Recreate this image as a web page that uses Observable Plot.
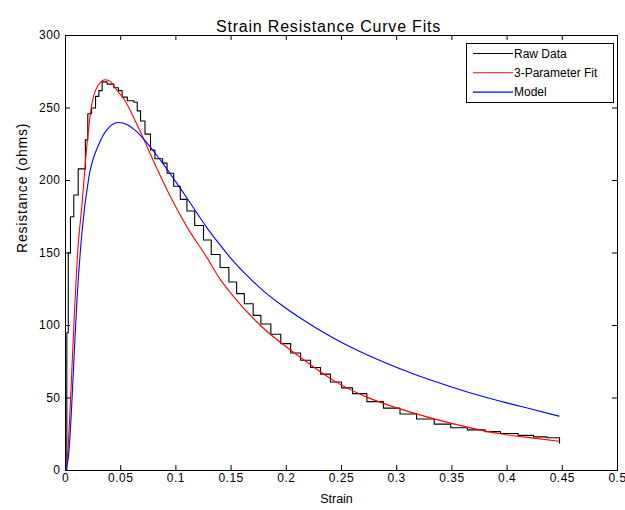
<!DOCTYPE html>
<html>
<head>
<meta charset="utf-8">
<script src="https://cdn.jsdelivr.net/npm/d3@7"></script>
<script src="https://cdn.jsdelivr.net/npm/@observablehq/plot@0.6"></script>
<style>
  html, body { margin: 0; padding: 0; background: #fff; }
  #wrap { position: relative; width: 625px; height: 510px; }
  #wrap svg text { font-family: "Liberation Sans", Arial, sans-serif; }
  .ttl { letter-spacing: 0.8px; }
  .ylab { letter-spacing: 0.8px; }
  .tk text { letter-spacing: 0.5px; }
  #legend { position: absolute; left: 466px; top: 43px; }
</style>
</head>
<body>
<div id="wrap"></div>
<script>
const title = "Strain Resistance Curve Fits";
const xLabel = "Strain";
const yLabel = "Resistance (ohms)";
const seriesNames = ["Raw Data", "3-Parameter Fit", "Model"];
const seriesColors = ["#000000", "#ff0000", "#0000ff"];

const xTicks = [0, 0.05, 0.1, 0.15, 0.2, 0.25, 0.3, 0.35, 0.4, 0.45, 0.5];
const xTickLabels = ["0", "0.05", "0.1", "0.15", "0.2", "0.25", "0.3", "0.35", "0.4", "0.45", "0.5"];
const yTicks = [0, 50, 100, 150, 200, 250, 300];
const yTickLabels = ["0", "50", "100", "150", "200", "250", "300"];

// Raw data (step curve)
const rawStrain = [0, 0.0012, 0.0025, 0.0045, 0.0075, 0.0115, 0.018, 0.0202, 0.0236, 0.0272, 0.0302, 0.0332,
  0.0377, 0.0438, 0.048, 0.0513, 0.056, 0.062, 0.065, 0.068, 0.072, 0.077, 0.081, 0.088, 0.092, 0.098,
  0.104, 0.11, 0.117, 0.125, 0.132, 0.14, 0.148, 0.155, 0.162, 0.17, 0.177, 0.186, 0.195, 0.204, 0.213,
  0.222, 0.231, 0.24, 0.25, 0.26, 0.273, 0.288, 0.303, 0.318, 0.334, 0.349, 0.364, 0.38, 0.394, 0.41,
  0.424, 0.436, 0.4475];
const rawResistance = [0, 95, 150, 175, 190, 208, 228, 246, 250, 258, 262, 268,
  266.5, 264, 262, 257.5, 255, 254, 248, 241, 232, 221, 215, 212, 205, 196,
  187, 179, 169, 159, 149, 140, 130, 122, 115, 107, 101, 94, 87.5, 81, 76,
  71, 66.5, 61, 57, 53, 47.5, 43, 39, 35.5, 32, 29.5, 28, 26.8, 25.5, 24.2,
  23.2, 22.6, 19];

// 3-parameter fit
const fitStrain = [0, 0.002, 0.0045, 0.0075, 0.011, 0.015, 0.0196, 0.0242, 0.03, 0.036, 0.041, 0.0468,
  0.054, 0.062, 0.07, 0.08, 0.095, 0.11, 0.128, 0.14, 0.15, 0.1766, 0.2129, 0.243, 0.273, 0.303, 0.334,
  0.364, 0.394, 0.424, 0.447];
const fitResistance = [0, 12, 48, 99, 150, 184, 226, 254, 266, 269.5, 268, 262,
  255, 243, 230, 213, 189, 168, 147, 132, 122, 100, 78, 62, 50.6, 42.5, 35.6,
  29.9, 25.3, 22.3, 20.2];

// Model
const modelStrain = [0, 0.003, 0.0066, 0.0085, 0.0106, 0.015, 0.0211, 0.0302, 0.0392, 0.048, 0.056, 0.064,
  0.072, 0.08, 0.088, 0.095, 0.105, 0.113, 0.12, 0.128, 0.138, 0.149, 0.165, 0.18, 0.195, 0.213, 0.243,
  0.273, 0.303, 0.334, 0.364, 0.394, 0.42, 0.447];
const modelResistance = [0, 12, 60, 90, 120, 165, 202, 225, 236.5, 240, 238.5, 234,
  227.5, 220, 212, 204.5, 193.5, 184.5, 176.5, 167.5, 157.5, 147, 134, 123.4, 114.5, 105, 91.2,
  79.8, 70.2, 61.5, 54.2, 47.8, 42.7, 37.5];

const raw = rawStrain.map((x, i) => ({x, y: rawResistance[i]}));
const fit = fitStrain.map((x, i) => ({x, y: fitResistance[i]}));
const model = modelStrain.map((x, i) => ({x, y: modelResistance[i]}));

const W = 625, H = 510, mL = 65, mR = 8, mT = 35, mB = 40;
const innerW = W - mL - mR, innerH = H - mT - mB, tickLen = 5;

const chart = Plot.plot({
  width: W, height: H,
  marginLeft: mL, marginRight: mR, marginTop: mT, marginBottom: mB,
  style: {background: "#fff", color: "#000", fontSize: "12px", fontFamily: "Liberation Sans, Arial, sans-serif"},
  x: {domain: [0, 0.5]},
  y: {domain: [0, 300]},
  marks: [
    Plot.line(raw, {x: "x", y: "y", stroke: seriesColors[0], strokeWidth: 1.1, curve: "step-after"}),
    Plot.line(fit, {x: "x", y: "y", stroke: seriesColors[1], strokeWidth: 1.1, curve: "monotone-x"}),
    Plot.line(model, {x: "x", y: "y", stroke: seriesColors[2], strokeWidth: 1.1, curve: "monotone-x"}),
    Plot.frame({stroke: "#000", strokeWidth: 1}),
    // inward ticks on all four sides
    Plot.tickX(xTicks, {x: d => d, insetTop: innerH - tickLen, stroke: "#000"}),
    Plot.tickX(xTicks, {x: d => d, insetBottom: innerH - tickLen, stroke: "#000"}),
    Plot.tickY(yTicks, {y: d => d, insetRight: innerW - tickLen, stroke: "#000"}),
    Plot.tickY(yTicks, {y: d => d, insetLeft: innerW - tickLen, stroke: "#000"}),
    Plot.axisX({ticks: xTicks, tickSize: 0, tickPadding: 3, label: null, fontSize: 12, className: "tk",
      tickFormat: d => xTickLabels[xTicks.indexOf(d)]}),
    Plot.axisY({ticks: yTicks, tickSize: 0, tickPadding: 5, label: null, fontSize: 12, className: "tk",
      tickFormat: d => yTickLabels[yTicks.indexOf(d)]}),
    Plot.text([title], {text: d => d, frameAnchor: "top", dx: -13, dy: -15, fontSize: 16, className: "ttl"}),
    Plot.text([xLabel], {text: d => d, frameAnchor: "bottom", dx: -5, dy: 32, fontSize: 12.5}),
    Plot.text([yLabel], {text: d => d, frameAnchor: "left", dx: -43, rotate: -90, fontSize: 14, className: "ylab"})
  ]
});
document.getElementById("wrap").appendChild(chart);

// Legend box (overlay)
const lg = d3.select("#wrap").append("svg").attr("id", "legend")
  .attr("width", 148).attr("height", 60);
lg.append("rect").attr("x", 0.5).attr("y", 0.5).attr("width", 147).attr("height", 59)
  .attr("fill", "#fff").attr("stroke", "#000");
seriesNames.forEach((name, i) => {
  const cy = 10.5 + i * 19.3;
  lg.append("line").attr("x1", 7).attr("x2", 47).attr("y1", cy).attr("y2", cy)
    .attr("stroke", seriesColors[i]).attr("stroke-width", 1.1);
  lg.append("text").attr("x", 48).attr("y", cy).attr("dy", "0.35em")
    .attr("font-size", 12).attr("font-family", "Liberation Sans, Arial, sans-serif")
    .attr("fill", "#000").text(name);
});
</script>
</body>
</html>
